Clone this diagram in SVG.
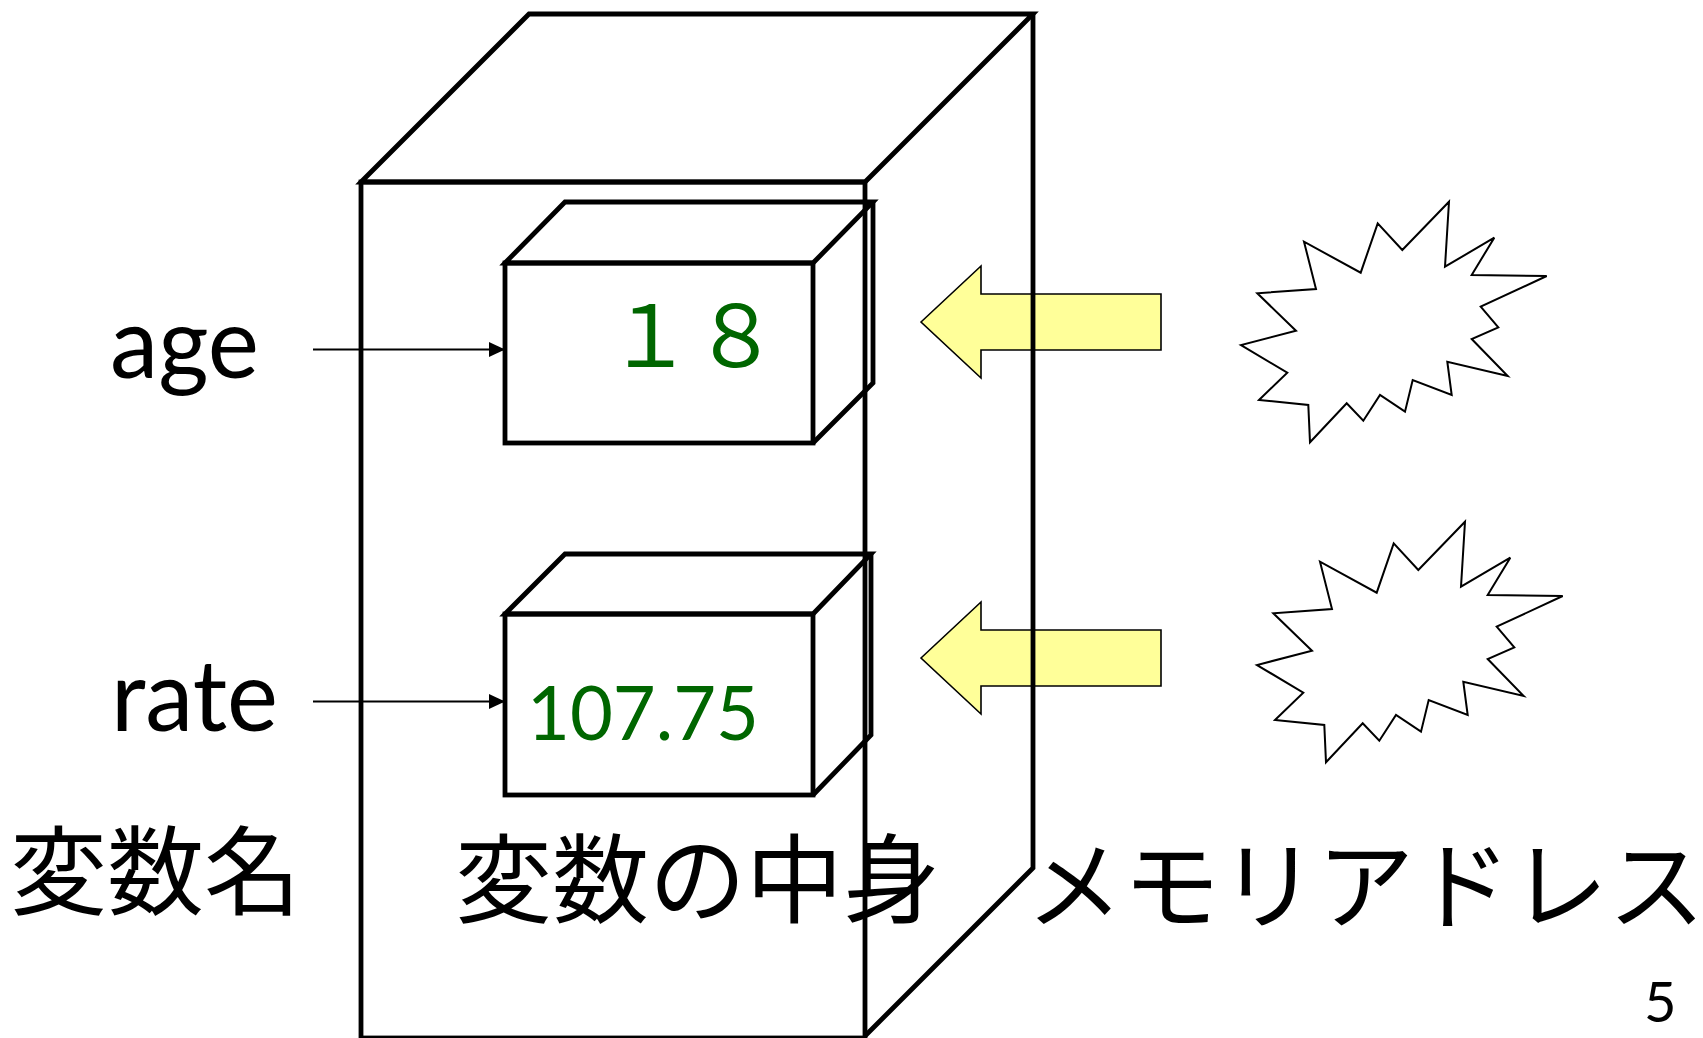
<svg xmlns="http://www.w3.org/2000/svg" width="1703" height="1038" viewBox="0 0 1703 1038">
<style>
.box{fill:none;stroke:#000;stroke-width:4.8;stroke-linejoin:miter}
.lat{font-family:Lato,"Liberation Sans",sans-serif;fill:#000}
.jp{font-family:"Noto Sans CJK JP","Noto Sans CJK SC",sans-serif;fill:#000}
.val{fill:#006600}
.blk{fill:#FFFF99;stroke:#000;stroke-width:1.6}
.burst{fill:#fff;stroke:#000;stroke-width:2;stroke-linejoin:miter}
.conn{stroke:#000;stroke-width:2;fill:none}
</style>
<defs>
<marker id="ah" markerUnits="userSpaceOnUse" markerWidth="16" markerHeight="16" viewBox="0 0 16 16" refX="16" refY="8" orient="auto">
<path d="M0,0.5 L16,8 L0,15.5 Z" fill="#000"/>
</marker>
<polygon id="burstShape" points="1449,201.7 1445,266.7 1494.3,237.7 1471.7,275 1546.7,276 1480.7,306.7 1498.3,327.3 1471.7,339 1507.7,376 1447.3,361.7 1451.7,395 1412.7,380 1405,411.7 1380,395 1363.3,420.7 1346.7,403.3 1310,442.3 1308.3,405 1259,400 1287.3,372.7 1241,345 1296,330.7 1257.3,293.3 1316,289 1304,241.7 1360.7,272.7 1377.7,223.3 1402.3,250"/>
</defs>
<rect width="1703" height="1038" fill="#fff"/>

<g id="address-arrow-1"><polygon class="blk" points="921,322 981,266 981,294 1161,294 1161,350 981,350 981,378"/></g>
<g id="address-arrow-2"><polygon class="blk" points="921,658 981,602 981,630 1161,630 1161,686 981,686 981,714"/></g>

<g id="memory-cabinet">
<polygon class="box" points="361,182 529,14 1033,14 865,182"/>
<rect class="box" x="361" y="182" width="504" height="856"/>
<polyline class="box" points="1033,14 1033,868 865,1036"/>
</g>

<g id="box-age">
<polygon class="box" points="505,263 565,202 873,202 813,263"/>
<rect class="box" x="505" y="263" width="308" height="180"/>
<polyline class="box" points="873,202 873,383 813,443"/>
<text class="jp val" x="607" y="367" font-size="86">１８</text>
</g>

<g id="box-rate">
<polygon class="box" points="505,614 565,554 871,554 813,614"/>
<rect class="box" x="505" y="614" width="308" height="181"/>
<polyline class="box" points="871,554 871,735 813,795"/>
<text class="lat val" x="527" y="740" font-size="76" textLength="232" lengthAdjust="spacingAndGlyphs">107.75</text>
</g>

<g id="label-age"><text class="lat" x="110" y="378" font-size="99" textLength="149" lengthAdjust="spacingAndGlyphs">age</text></g>
<g id="label-rate"><text class="lat" x="111" y="731" font-size="99" textLength="167" lengthAdjust="spacingAndGlyphs">rate</text></g>

<g id="connectors">
<line class="conn" x1="313" y1="349.5" x2="505" y2="349.5" marker-end="url(#ah)"/>
<line class="conn" x1="313" y1="701.5" x2="505" y2="701.5" marker-end="url(#ah)"/>
</g>

<g id="burst-1"><use href="#burstShape" class="burst"/></g>
<g id="burst-2"><use href="#burstShape" class="burst" transform="translate(16,320)"/></g>

<g id="caption-name"><text class="jp" x="10" y="907" font-size="97">変数名</text></g>
<g id="caption-content"><text class="jp" x="455" y="915" font-size="97">変数の中身</text></g>
<g id="caption-address"><text class="jp" x="1026" y="921" font-size="97">メモリアドレス</text></g>
<g id="page-number"><text class="lat" x="1644" y="1022" font-size="56">5</text></g>
</svg>
